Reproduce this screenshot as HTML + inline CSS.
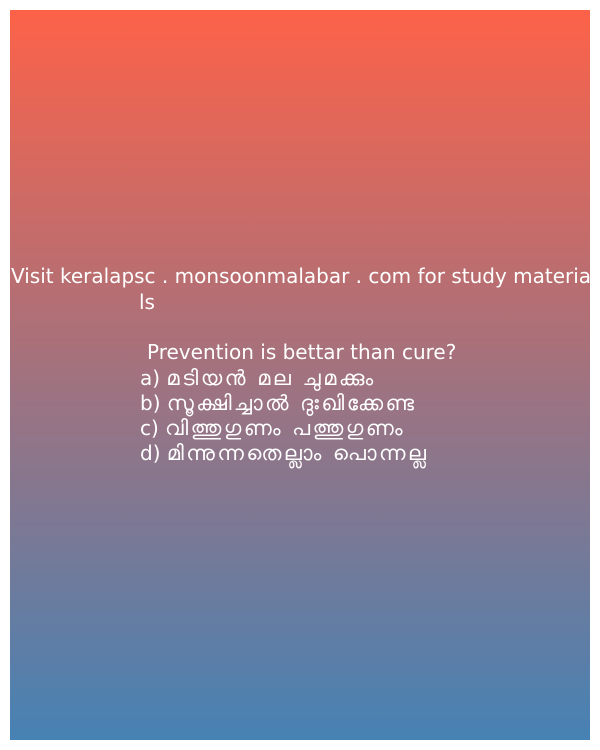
<!DOCTYPE html>
<html><head><meta charset="utf-8"><style>
html,body{margin:0;padding:0;background:#fff;width:600px;height:750px;overflow:hidden}
#card{position:absolute;left:10px;top:10px;width:580px;height:730px;background:linear-gradient(to bottom,#fd6249,#4682b4)}
.t{position:absolute;color:#fff;font-family:"DejaVu Sans","Liberation Sans",sans-serif;font-size:20px;line-height:25px;white-space:nowrap;letter-spacing:0px}
.m{letter-spacing:2.5px;font-size:21px}
</style></head><body>
<div id="card"></div>
<div class="t" style="left:11px;top:264px">Visit keralapsc . monsoonmalabar . com for study materia</div>
<div class="t" style="left:139px;top:290px">ls</div>
<div class="t" style="left:147px;top:340px">Prevention is bettar than cure?</div>
<div class="t" style="left:140px;top:366px">a) <span class="m">മടിയൻ മല ചുമക്കും</span></div>
<div class="t" style="left:140px;top:391px">b) <span class="m">സൂക്ഷിച്ചാൽ ദുഃഖിക്കേണ്ട</span></div>
<div class="t" style="left:140px;top:416px">c) <span class="m">വിത്തുഗുണം പത്തുഗുണം</span></div>
<div class="t" style="left:140px;top:441px">d) <span class="m">മിന്നുന്നതെല്ലാം പൊന്നല്ല</span></div>
</body></html>
